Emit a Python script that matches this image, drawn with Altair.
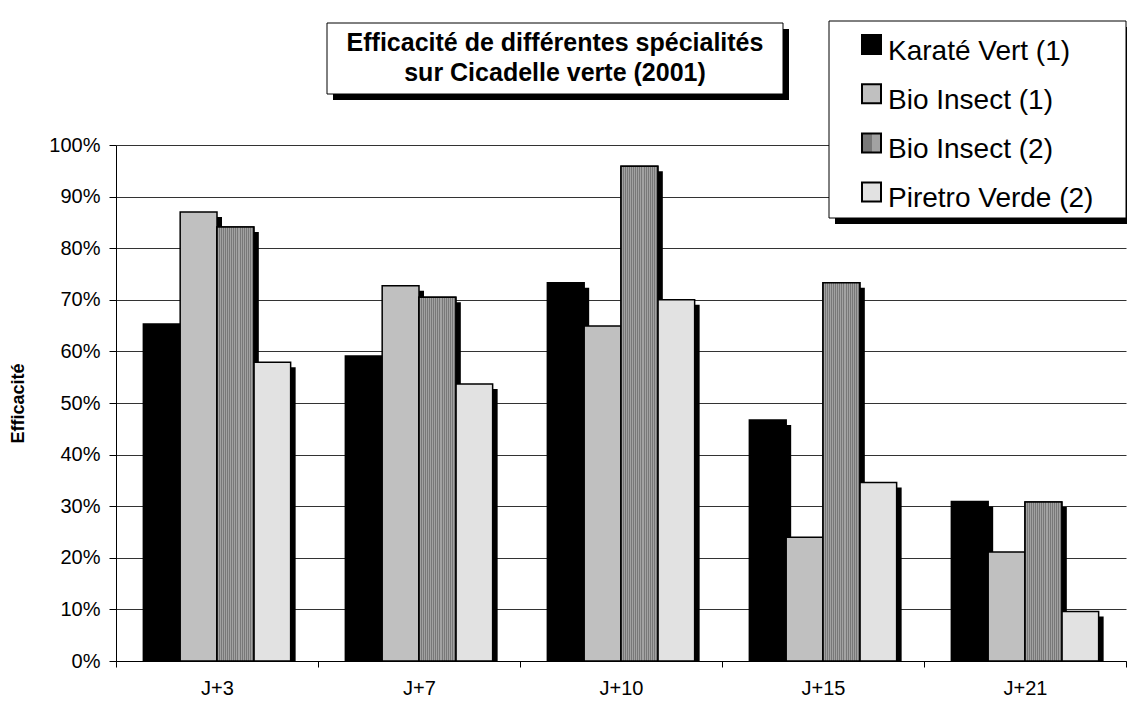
import altair as alt
import pandas as pd

# ---------------- data ----------------
categories = ["J+3", "J+7", "J+10", "J+15", "J+21"]
series = ["Karaté Vert (1)", "Bio Insect (1)", "Bio Insect (2)", "Piretro Verde (2)"]
karate_vert_1 = [0.653, 0.591, 0.733, 0.467, 0.309]
bio_insect_1 = [0.870, 0.727, 0.649, 0.240, 0.211]
bio_insect_2 = [0.841, 0.705, 0.959, 0.733, 0.308]
piretro_verde_2 = [0.579, 0.537, 0.700, 0.346, 0.096]
y_ticks = [0, 0.1, 0.2, 0.3, 0.4, 0.5, 0.6, 0.7, 0.8, 0.9, 1.0]
title_lines = ["Efficacité de différentes spécialités", "sur Cicadelle verte (2001)"]
y_title = "Efficacité"

rows = []
for s, vals in zip(series, [karate_vert_1, bio_insect_1, bio_insect_2, piretro_verde_2]):
    for c, v in zip(categories, vals):
        rows.append({"jour": c, "produit": s, "eff": v})
df = pd.DataFrame(rows)

# ---------------- style ----------------
W, H = 1010, 516
BW = W / len(categories)
FONT = "Liberation Sans"
fills = ["#000000", "#c0c0c0", "#8c8c8c", "#e2e2e2"]
PAD_OUT = 0.743

n_stripes = 18
stops = []
for k in range(n_stripes):
    a = k / n_stripes
    b = (k + 0.5) / n_stripes
    c = (k + 1) / n_stripes
    stops += [
        alt.GradientStop(offset=a, color="#787878"),
        alt.GradientStop(offset=b, color="#787878"),
        alt.GradientStop(offset=b, color="#a2a2a2"),
        alt.GradientStop(offset=c, color="#a2a2a2"),
    ]
stripe_fill = alt.LinearGradient(gradient="linear", stops=stops, x1=0, x2=1, y1=0, y2=0)
legend_fills = [fills[0], fills[1], stripe_fill, fills[3]]

one = pd.DataFrame({"k": [0]})

x_axis = alt.Axis(
    title=None, labelFontSize=20, labelFont=FONT, labelColor="black", labelAngle=0,
    labelPadding=11, labelBaseline="top", tickSize=6, tickColor="black", tickBand="extent",
    domainColor="black", domainWidth=1, grid=False,
)
y_axis = alt.Axis(
    values=y_ticks, format=".0%", labelFontSize=20, labelFont=FONT, labelColor="black",
    tickSize=7, tickColor="black", labelPadding=9, domainColor="black", domainWidth=1,
    grid=True, gridColor="#333333", gridWidth=1,
    title=y_title, titleFont=FONT, titleFontSize=18, titleFontWeight="bold", titleColor="black",
    titleAngle=-90, titleX=-98, titleY=H / 2, titleAlign="center", titleBaseline="middle",
)

x_scale = alt.Scale(domain=categories, paddingInner=0, paddingOuter=0)
y_scale = alt.Scale(domain=[0, 1], nice=False)

base = alt.Chart(df)

X = alt.X("jour:N", scale=x_scale, axis=x_axis)
Y = alt.Y("eff:Q", scale=y_scale, axis=y_axis)

shadow = base.mark_bar(color="black", yOffset=5, clip=True).encode(
    x=X,
    xOffset=alt.XOffset("produit:N", scale=alt.Scale(domain=series, paddingInner=0,
                                                     paddingOuter=PAD_OUT, range=[5, BW + 5])),
    y=Y,
)

bars = base.mark_bar(stroke="black", strokeWidth=1.5).encode(
    x=X,
    xOffset=alt.XOffset("produit:N", scale=alt.Scale(domain=series, paddingInner=0,
                                                     paddingOuter=PAD_OUT)),
    y=Y,
    color=alt.Color("produit:N", scale=alt.Scale(domain=series, range=fills), legend=None),
)

stripes = base.mark_bar(fill=stripe_fill, stroke="black", strokeWidth=1.5).encode(
    x=X,
    xOffset=alt.XOffset("produit:N", scale=alt.Scale(domain=series, paddingInner=0,
                                                     paddingOuter=PAD_OUT)),
    y=Y,
).transform_filter(alt.datum.produit == series[2])

# ---------------- title box ----------------
tb = dict(x0=211, x1=667, y0=-122, y1=-51)
title_shadow = alt.Chart(one).mark_rect(fill="black").encode(
    x=alt.value(tb["x0"] + 6), x2=alt.value(tb["x1"] + 6),
    y=alt.value(tb["y0"] + 6), y2=alt.value(tb["y1"] + 6))
title_box = alt.Chart(one).mark_rect(fill="white", stroke="black", strokeWidth=1).encode(
    x=alt.value(tb["x0"]), x2=alt.value(tb["x1"]),
    y=alt.value(tb["y0"]), y2=alt.value(tb["y1"]))
title_text = alt.Chart(one).mark_text(
    text=title_lines, font=FONT, fontSize=25, fontWeight="bold", color="black",
    align="center", baseline="alphabetic", lineHeight=30,
).encode(x=alt.value((tb["x0"] + tb["x1"]) / 2), y=alt.value(-94))

# ---------------- legend box ----------------
lb = dict(x0=713, x1=1010, y0=-124, y1=73)
leg_shadow = alt.Chart(one).mark_rect(fill="black").encode(
    x=alt.value(lb["x0"] + 6), x2=alt.value(lb["x1"] + 6),
    y=alt.value(lb["y0"] + 6), y2=alt.value(lb["y1"] + 6))
leg_box = alt.Chart(one).mark_rect(fill="white", stroke="black", strokeWidth=1).encode(
    x=alt.value(lb["x0"]), x2=alt.value(lb["x1"]),
    y=alt.value(lb["y0"]), y2=alt.value(lb["y1"]))
legend_layers = []
for i, (name, f) in enumerate(zip(series, legend_fills)):
    cy = -100.5 + i * 49.2
    legend_layers.append(
        alt.Chart(one).mark_rect(fill=f, stroke="black", strokeWidth=2).encode(
            x=alt.value(746), x2=alt.value(765), y=alt.value(cy - 9.5), y2=alt.value(cy + 9.5)))
    legend_layers.append(
        alt.Chart(one).mark_text(text=name, font=FONT, fontSize=28, color="black",
                                 align="left", baseline="alphabetic").encode(
            x=alt.value(772), y=alt.value(cy + 15)))

chart = alt.layer(
    shadow, bars, stripes,
    title_shadow, title_box, title_text,
    leg_shadow, leg_box, *legend_layers,
).resolve_scale(xOffset="independent").properties(
    width=W, height=H,
    autosize=alt.AutoSizeParams(type="none"),
    padding={"left": 108, "top": 137, "right": 1, "bottom": 40},
    background="white",
).configure_view(strokeWidth=0)

chart.save("out.html", embed_options={"renderer": "svg", "actions": False})
